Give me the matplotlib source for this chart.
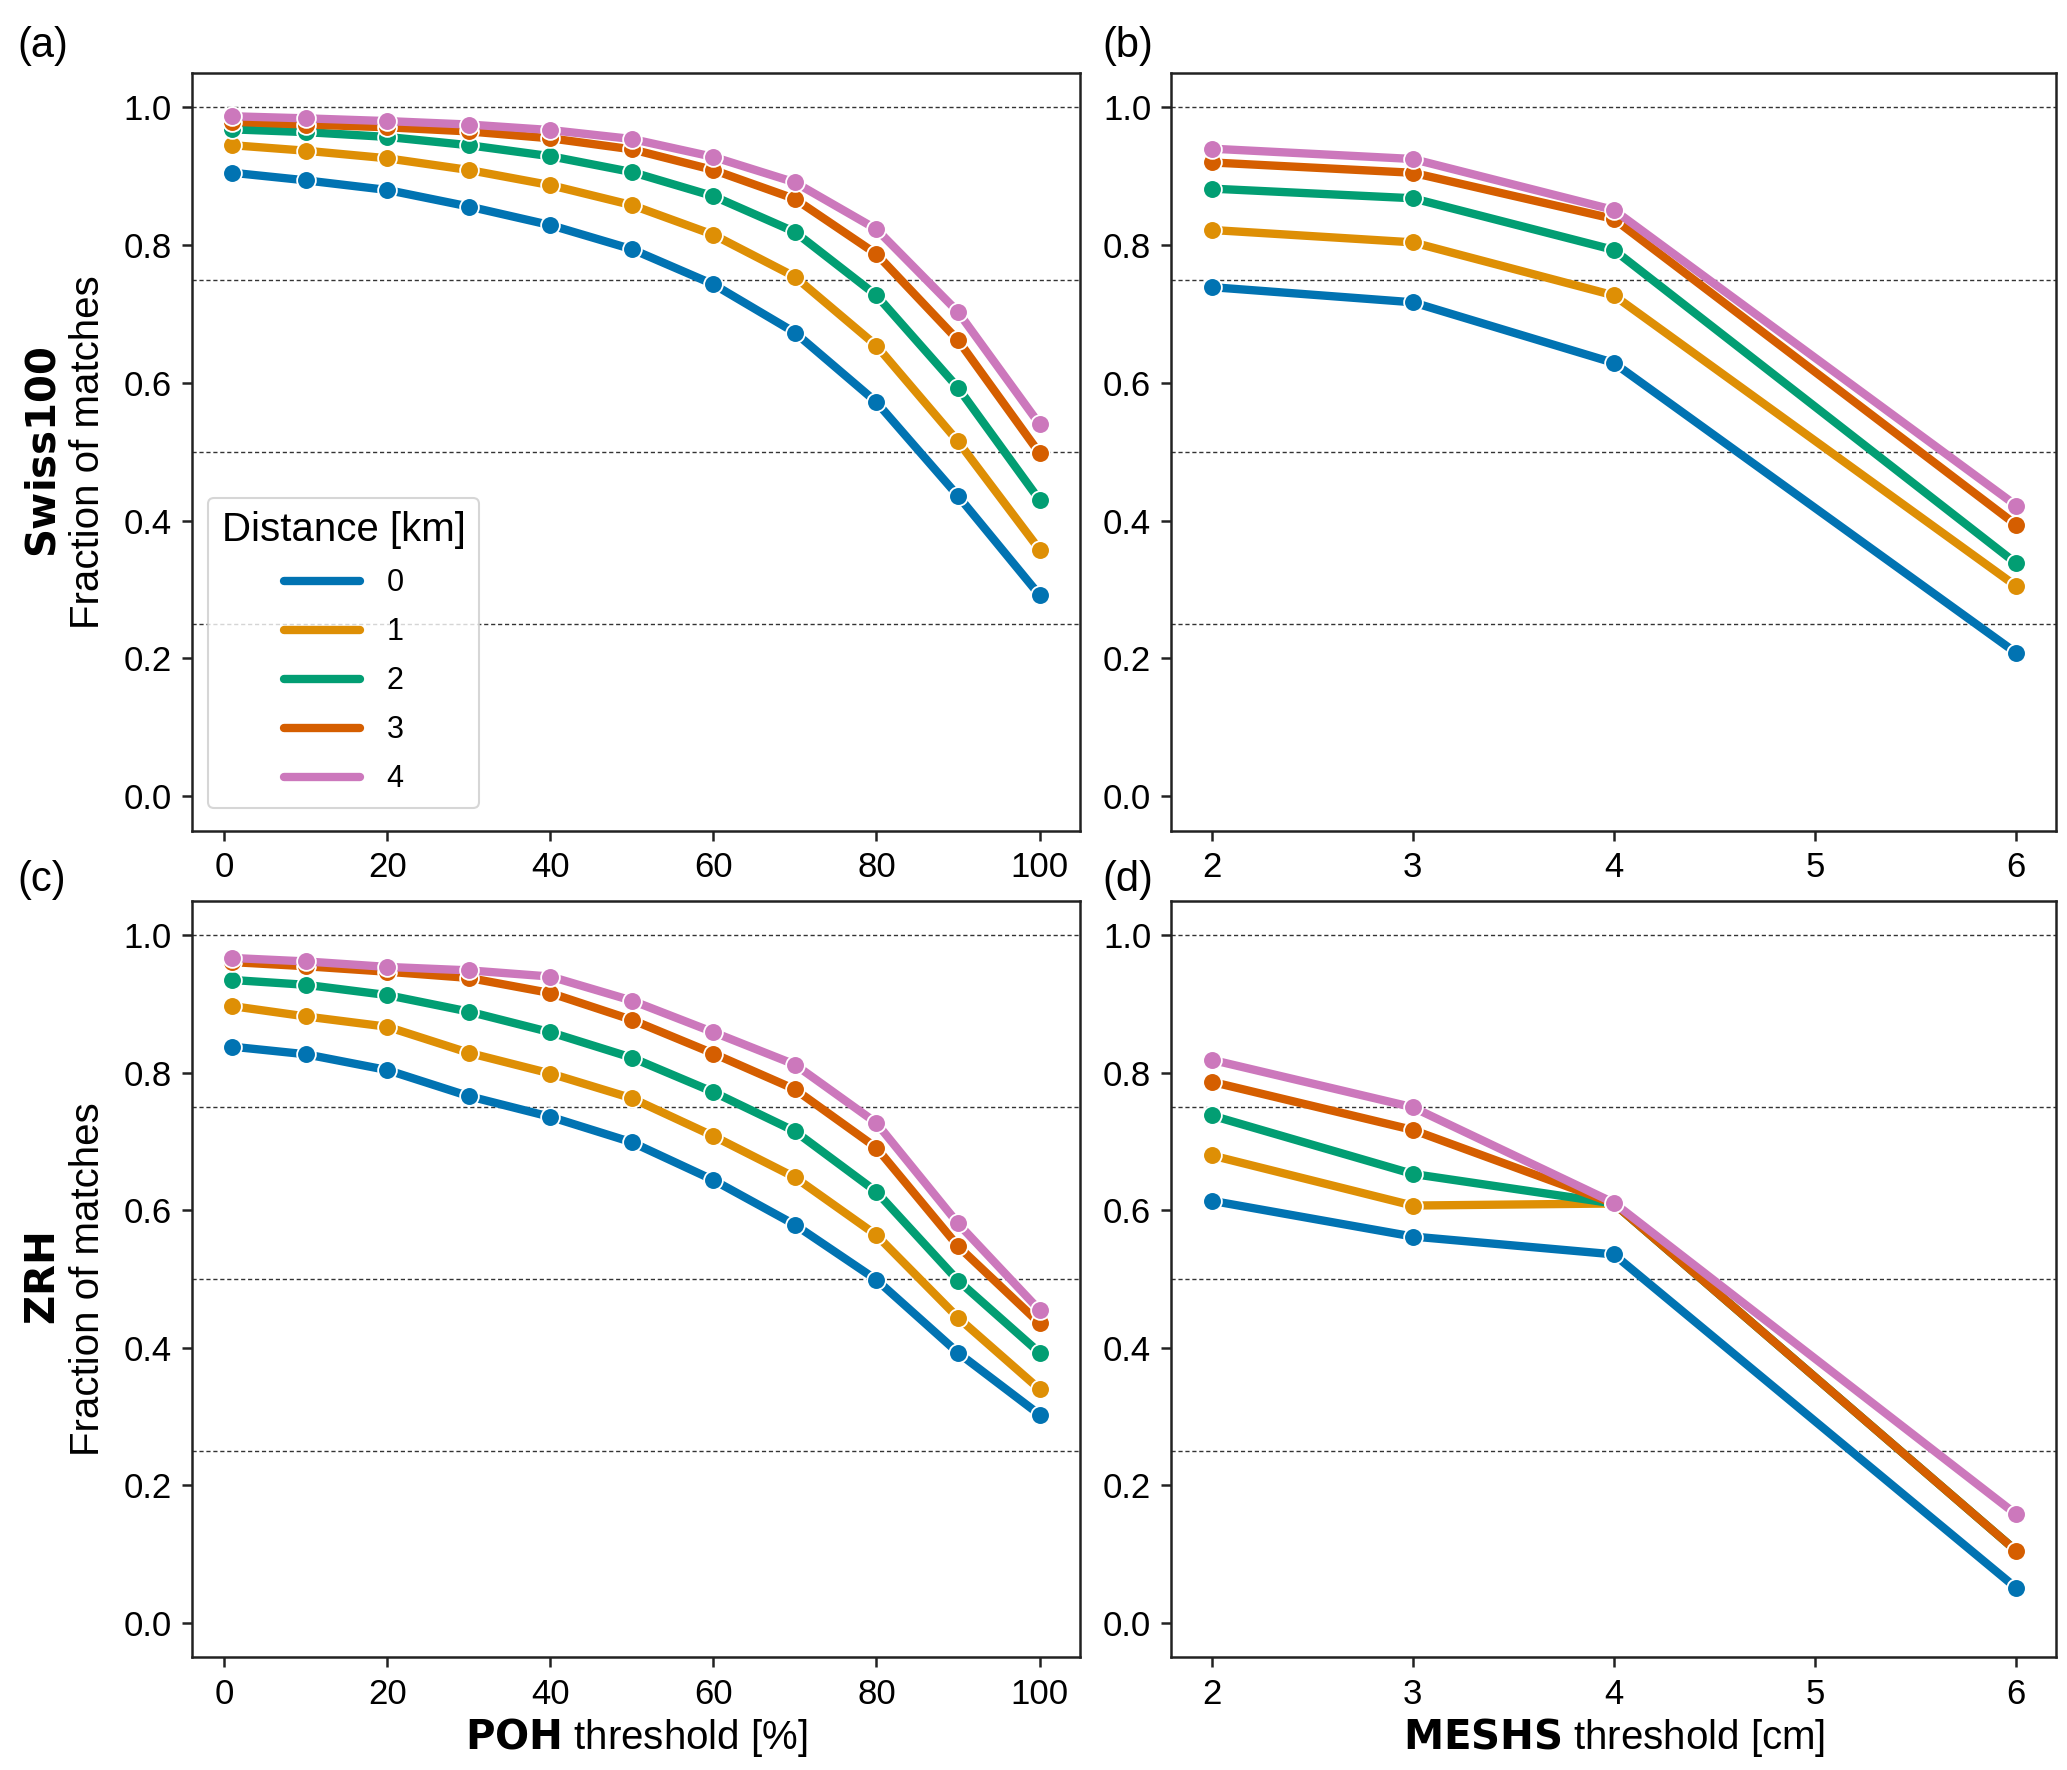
import matplotlib
matplotlib.use('Agg')
import matplotlib.pyplot as plt
from matplotlib.lines import Line2D

plt.rcParams['font.family'] = ['Liberation Sans', 'DejaVu Sans']
plt.rcParams['mathtext.fontset'] = 'dejavusans'

# ---------------- data ----------------
distances = ['0', '1', '2', '3', '4']
colors = ['#0173B2', '#DE8F05', '#029E73', '#D55E00', '#CC78BC']

poh_thresholds = [1, 10, 20, 30, 40, 50, 60, 70, 80, 90, 100]
meshs_thresholds = [2, 3, 4, 6]

# Swiss100, POH (rows: distance 0..4)
swiss100_poh = [
    [0.905, 0.894, 0.880, 0.856, 0.829, 0.794, 0.743, 0.673, 0.572, 0.436, 0.292],
    [0.945, 0.937, 0.926, 0.909, 0.887, 0.858, 0.815, 0.754, 0.654, 0.515, 0.358],
    [0.968, 0.964, 0.957, 0.945, 0.929, 0.906, 0.871, 0.819, 0.727, 0.593, 0.430],
    [0.979, 0.975, 0.971, 0.965, 0.955, 0.939, 0.909, 0.867, 0.787, 0.662, 0.498],
    [0.987, 0.984, 0.980, 0.975, 0.967, 0.954, 0.928, 0.891, 0.823, 0.703, 0.540],
]
# Swiss100, MESHS
swiss100_meshs = [
    [0.739, 0.717, 0.629, 0.208],
    [0.822, 0.804, 0.727, 0.305],
    [0.882, 0.868, 0.793, 0.338],
    [0.920, 0.905, 0.838, 0.394],
    [0.940, 0.925, 0.851, 0.422],
]
# ZRH, POH
zrh_poh = [
    [0.838, 0.827, 0.804, 0.766, 0.736, 0.699, 0.644, 0.579, 0.499, 0.393, 0.303],
    [0.897, 0.882, 0.867, 0.829, 0.799, 0.763, 0.708, 0.648, 0.564, 0.444, 0.340],
    [0.935, 0.928, 0.913, 0.889, 0.859, 0.822, 0.772, 0.715, 0.627, 0.498, 0.393],
    [0.961, 0.955, 0.947, 0.938, 0.916, 0.877, 0.828, 0.776, 0.691, 0.548, 0.436],
    [0.967, 0.962, 0.954, 0.949, 0.940, 0.905, 0.859, 0.812, 0.727, 0.581, 0.455],
]
# ZRH, MESHS
zrh_meshs = [
    [0.614, 0.562, 0.536, 0.051],
    [0.680, 0.607, 0.610, 0.105],
    [0.738, 0.653, 0.610, 0.105],
    [0.787, 0.717, 0.610, 0.105],
    [0.819, 0.750, 0.611, 0.158],
]

ref_lines = [0.25, 0.5, 0.75, 1.0]
yticks = [0.0, 0.2, 0.4, 0.6, 0.8, 1.0]
poh_ticks = [0, 20, 40, 60, 80, 100]
meshs_ticks = [2, 3, 4, 5, 6]

# ---------------- figure ----------------
fig = plt.figure(figsize=(20.67, 17.70), dpi=100)

W, H = 1560.0, 1336.0
def rect(l, t, r, b):
    return [l / W, 1 - b / H, (r - l) / W, (b - t) / H]

ax_a = fig.add_axes(rect(145, 55, 815, 627))
ax_b = fig.add_axes(rect(884, 55, 1552, 627))
ax_c = fig.add_axes(rect(145, 680, 815, 1251))
ax_d = fig.add_axes(rect(884, 680, 1552, 1251))

TICK_FS = 25
LABEL_FS = 29
PANEL_FS = 30

panels = [
    (ax_a, poh_thresholds, swiss100_poh, '(a)', -0.197, 1.036),
    (ax_b, meshs_thresholds, swiss100_meshs, '(b)', -0.078, 1.036),
    (ax_c, poh_thresholds, zrh_poh, '(c)', -0.197, 1.028),
    (ax_d, meshs_thresholds, zrh_meshs, '(d)', -0.078, 1.028),
]

for ax, xs, data, lab, lx, ly in panels:
    for y in ref_lines:
        ax.axhline(y, color='#333333', lw=1.0, ls=(0, (3, 2)), zorder=0.5)
    for i, series in enumerate(data):
        ax.plot(xs, series, color=colors[i], lw=6.0, marker='o', ms=13.5,
                mec='white', mew=1.3, label=distances[i], zorder=2 + i,
                solid_capstyle='round')
    ax.set_ylim(-0.05, 1.05)
    ax.set_yticks(yticks)
    ax.set_yticklabels([f'{v:.1f}' for v in yticks])
    ax.tick_params(axis='both', direction='out', length=7.5, width=1.8,
                   labelsize=TICK_FS, pad=7, color='#222222')
    for sp in ax.spines.values():
        sp.set_linewidth(1.8)
        sp.set_color('#222222')
    ax.text(lx, ly, lab, transform=ax.transAxes, fontsize=PANEL_FS,
            va='center', ha='left')

ax_a.set_xticks(poh_ticks)
ax_c.set_xticks(poh_ticks)
ax_b.set_xticks(meshs_ticks)
ax_d.set_xticks(meshs_ticks)

ax_a.set_ylabel(r'$\bf{Swiss100}$' + '\nFraction of matches', fontsize=LABEL_FS, labelpad=12)
ax_c.set_ylabel(r'$\bf{ZRH}$' + '\nFraction of matches', fontsize=LABEL_FS, labelpad=12)
ax_c.set_xlabel(r'$\bf{POH}$ threshold [%]', fontsize=LABEL_FS, labelpad=4)
ax_d.set_xlabel(r'$\bf{MESHS}$ threshold [cm]', fontsize=LABEL_FS, labelpad=4)

leg_handles = [Line2D([0], [0], color=c, lw=6.0, solid_capstyle='round') for c in colors]
leg = ax_a.legend(leg_handles, distances, title='Distance [km]', loc='lower left',
                  bbox_to_anchor=(0.018, 0.03), borderaxespad=0,
                  fontsize=22, title_fontsize=29,
                  frameon=True, handlelength=2.5, borderpad=0.45, labelspacing=0.62,
                  handletextpad=0.85, fancybox=True)
leg.get_frame().set_edgecolor('#cccccc')
leg.get_frame().set_linewidth(1.5)

fig.savefig('out.png', dpi=100)
